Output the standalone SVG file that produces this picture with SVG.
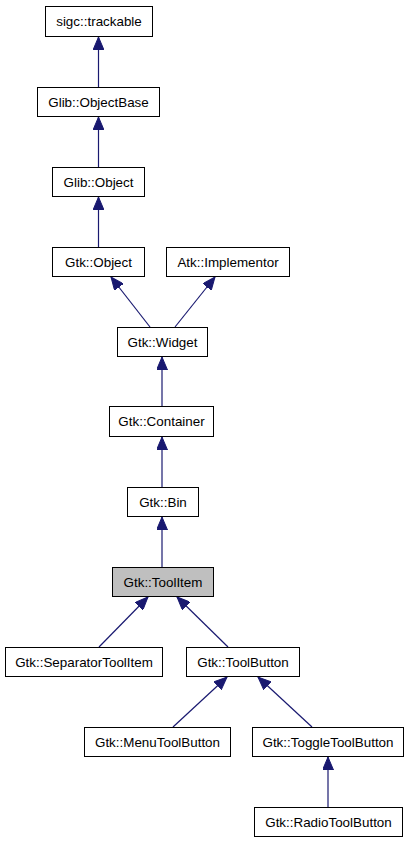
<svg xmlns="http://www.w3.org/2000/svg" width="408" height="843" viewBox="0 0 408 843">
<style>
.n rect{fill:#fff;stroke:#000;stroke-width:1}
.n.h rect{fill:#bfbfbf}
.n text{font-family:"Liberation Sans",Arial,sans-serif;font-size:13.4px;text-anchor:middle;fill:#000}
.e path{fill:none;stroke:#191970;stroke-width:1.2;marker-end:url(#a)}
</style>
<defs>
<marker id="a" markerUnits="userSpaceOnUse" markerWidth="14" markerHeight="11" refX="13" refY="5.5" orient="auto">
<path d="M0,0 L13,5.5 L0,11 z" fill="#191970" stroke="#191970" stroke-width="1"/>
</marker>
</defs>
<rect width="408" height="843" fill="#fff"/>
<g id="edges" class="e">
<path d="M98.5,87 L98.5,37"/>
<path d="M98.5,167 L98.5,117"/>
<path d="M98.5,247 L98.5,197"/>
<path d="M150,327 L111,277"/>
<path d="M175,327 L215,277"/>
<path d="M162,406 L162,357"/>
<path d="M162,487 L162,437"/>
<path d="M162,567 L162,517"/>
<path d="M99,647 L148,597"/>
<path d="M228,647 L177,597"/>
<path d="M173,727 L227,677"/>
<path d="M312,727 L258,677"/>
<path d="M328,807 L328,757"/>
</g>
<g id="sigc_trackable" class="n"><rect x="45.5" y="6.5" width="107" height="30"/><text x="99" y="26">sigc::trackable</text></g>
<g id="Glib_ObjectBase" class="n"><rect x="37.5" y="87.5" width="122" height="29"/><text x="98.5" y="106.5">Glib::ObjectBase</text></g>
<g id="Glib_Object" class="n"><rect x="52.5" y="167.5" width="92" height="29"/><text x="98.5" y="186.5">Glib::Object</text></g>
<g id="Gtk_Object" class="n"><rect x="52.5" y="247.5" width="92" height="29"/><text x="98.5" y="266.5">Gtk::Object</text></g>
<g id="Atk_Implementor" class="n"><rect x="166.5" y="247.5" width="123" height="29"/><text x="228" y="266.5">Atk::Implementor</text></g>
<g id="Gtk_Widget" class="n"><rect x="117.5" y="327.5" width="90" height="29"/><text x="162.5" y="346.5">Gtk::Widget</text></g>
<g id="Gtk_Container" class="n"><rect x="109.5" y="406.5" width="104" height="30"/><text x="161.5" y="426">Gtk::Container</text></g>
<g id="Gtk_Bin" class="n"><rect x="127.5" y="487.5" width="71" height="29"/><text x="163" y="506.5">Gtk::Bin</text></g>
<g id="Gtk_ToolItem" class="n h"><rect x="112.5" y="567.5" width="101" height="29"/><text x="163" y="586.5">Gtk::ToolItem</text></g>
<g id="Gtk_SeparatorToolItem" class="n"><rect x="5.5" y="647.5" width="157" height="29"/><text x="84" y="666.5">Gtk::SeparatorToolItem</text></g>
<g id="Gtk_ToolButton" class="n"><rect x="186.5" y="647.5" width="113" height="29"/><text x="243" y="666.5">Gtk::ToolButton</text></g>
<g id="Gtk_MenuToolButton" class="n"><rect x="84.5" y="727.5" width="146" height="29"/><text x="157.5" y="746.5">Gtk::MenuToolButton</text></g>
<g id="Gtk_ToggleToolButton" class="n"><rect x="252.5" y="727.5" width="151" height="29"/><text x="328" y="746.5">Gtk::ToggleToolButton</text></g>
<g id="Gtk_RadioToolButton" class="n"><rect x="254.5" y="807.5" width="148" height="29"/><text x="328.5" y="826.5">Gtk::RadioToolButton</text></g>
</svg>
